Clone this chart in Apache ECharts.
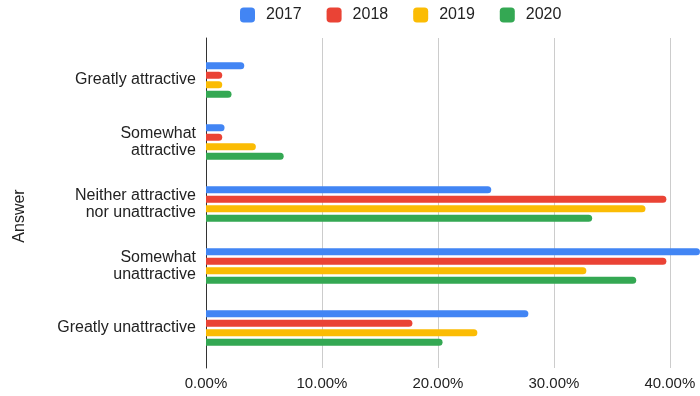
<!DOCTYPE html>
<html><head><meta charset="utf-8">
<script src="https://cdn.jsdelivr.net/npm/echarts@6/dist/echarts.min.js"></script>
<style>html,body{margin:0;padding:0;background:#fff}#c{width:700px;height:396px}</style>
</head><body><div id="c"></div>
<script>
const categories = ['Greatly attractive', 'Somewhat\nattractive', 'Neither attractive\nnor unattractive', 'Somewhat\nunattractive', 'Greatly unattractive'];
const seriesNames = ['2017', '2018', '2019', '2020'];
const v2017 = [3.3, 1.6, 24.6, 42.6, 27.8];
const v2018 = [1.4, 1.4, 39.7, 39.7, 17.8];
const v2019 = [1.4, 4.3, 37.9, 32.8, 23.4];
const v2020 = [2.2, 6.7, 33.3, 37.1, 20.4];
const xTicks = [0, 10, 20, 30, 40];
const colors = ['#4285F4', '#EA4335', '#FBBC04', '#34A853'];
const values = [v2017, v2018, v2019, v2020];
const FONT = '"Liberation Sans", Arial, sans-serif';
const xMax = 42.6;

const chart = echarts.init(document.getElementById('c'));
chart.setOption({
  animation: false,
  textStyle: { fontFamily: FONT },
  color: colors,
  legend: {
    top: 2, left: 235, itemWidth: 15, itemHeight: 15, itemGap: 25,
    icon: 'roundRect',
    textStyle: { fontSize: 16, color: '#222', fontFamily: FONT, padding: [0, 0, 0, 6] },
    data: seriesNames
  },
  grid: [
    { left: 206, right: 0, top: 38, height: 330, containLabel: false },
    { left: 206, right: 0, top: 49, height: 310, containLabel: false }
  ],
  xAxis: [
    { gridIndex: 0, type: 'value', min: 0, max: xMax, interval: 10,
      axisLine: { show: false }, axisTick: { show: false },
      splitLine: { show: true, showMaxLine: false, lineStyle: { color: '#cccccc', width: 1 } },
      axisLabel: { color: '#222', fontSize: 15, margin: 8, fontFamily: FONT, showMaxLabel: false,
        formatter: v => xTicks.indexOf(v) >= 0 ? v.toFixed(2) + '%' : '' } },
    { gridIndex: 1, type: 'value', min: 0, max: xMax, show: false }
  ],
  yAxis: [
    { gridIndex: 0, type: 'value', min: 0, max: 1,
      axisLine: { show: true, onZero: false, lineStyle: { color: '#333', width: 1 } },
      axisTick: { show: false }, axisLabel: { show: false }, splitLine: { show: false },
      name: 'Answer', nameLocation: 'middle', nameGap: 178, nameRotate: 90,
      nameTextStyle: { fontSize: 16, color: '#222', fontFamily: FONT, padding: [0, 26, 0, 0] } },
    { gridIndex: 1, type: 'category', inverse: true, data: categories,
      axisLine: { show: false }, axisTick: { show: false },
      axisLabel: { color: '#222', fontSize: 16, margin: 10, lineHeight: 17, align: 'right', fontFamily: FONT } }
  ],
  series: seriesNames.map((n, i) => ({
    name: n, type: 'bar', xAxisIndex: 1, yAxisIndex: 1,
    data: values[i], barWidth: 7, barGap: '36%',
    itemStyle: { color: colors[i], borderRadius: [0, 3.5, 3.5, 0] }
  }))
});
</script></body></html>
